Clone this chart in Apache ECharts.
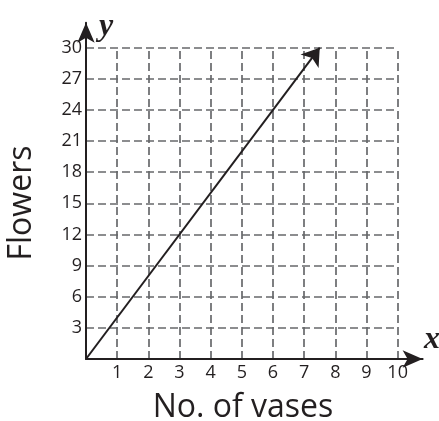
<!DOCTYPE html>
<html>
<head>
<meta charset="utf-8">
<script src="https://cdn.jsdelivr.net/npm/echarts@6/dist/echarts.min.js"></script>
<style>html,body{margin:0;padding:0;background:#fff;}#c{width:439px;height:421px;}</style>
</head>
<body>
<div id="c"></div>
<script>
// Data
var xTicks = [1, 2, 3, 4, 5, 6, 7, 8, 9, 10];
var yTicks = [3, 6, 9, 12, 15, 18, 21, 24, 27, 30];
var linePoints = [[0, 0], [7.5, 30]];
var xTitle = 'No. of vases';
var yTitle = 'Flowers';

var xMaxGrid = 10, yMaxGrid = 30;
var gridLines = [];
xTicks.forEach(function (x) { gridLines.push({ coords: [[x, 0], [x, yMaxGrid]] }); });
yTicks.forEach(function (y) { gridLines.push({ coords: [[0, y], [xMaxGrid, y]] }); });

var ink = '#231f20';
var font = 'Open Sans';
var chart = echarts.init(document.getElementById('c'), null, { renderer: 'canvas' });
chart.setOption({
  animation: false,
  grid: { left: 86, right: 16.4, top: 22.8, bottom: 62 },
  xAxis: {
    type: 'value', min: 0, max: 10.8, interval: 1, z: 5,
    axisLine: { show: true, symbol: ['none', 'arrow'], symbolSize: [13, 20], lineStyle: { color: ink, width: 2 } },
    axisTick: { show: false },
    splitLine: { show: false },
    axisLabel: {
      margin: 5, fontSize: 18, fontFamily: font, color: ink,
      formatter: function (v) { return xTicks.indexOf(v) >= 0 ? String(v) : ''; }
    }
  },
  yAxis: {
    type: 'value', min: 0, max: 32.4, interval: 3, z: 5,
    axisLine: { show: true, symbol: ['none', 'arrow'], symbolSize: [13, 20], lineStyle: { color: ink, width: 2 } },
    axisTick: { show: false },
    splitLine: { show: false },
    axisLabel: {
      margin: 4, fontSize: 18, fontFamily: font, color: ink,
      formatter: function (v) { return yTicks.indexOf(v) >= 0 ? String(v) : ''; }
    }
  },
  graphic: [
    { type: 'text', x: 243, y: 392, style: { text: xTitle, font: '32px "Open Sans"', fill: ink, textAlign: 'center', textVerticalAlign: 'top' } },
    { type: 'text', x: 6, y: 203, rotation: Math.PI / 2, style: { text: yTitle, font: '32px "Open Sans"', fill: ink, textAlign: 'center', textVerticalAlign: 'top' } },
    { type: 'text', x: 99, y: 43, style: { text: 'y', font: 'italic bold 32px "Liberation Serif"', fill: ink, textAlign: 'left', textVerticalAlign: 'bottom' } },
    { type: 'text', x: 424, y: 356, style: { text: 'x', font: 'italic bold 32px "Liberation Serif"', fill: ink, textAlign: 'left', textVerticalAlign: 'bottom' } }
  ],
  series: [
    {
      type: 'lines', coordinateSystem: 'cartesian2d', silent: true, z: 1,
      lineStyle: { color: '#67686b', width: 1.7, type: [8, 4], opacity: 1 },
      data: gridLines
    },
    {
      type: 'lines', coordinateSystem: 'cartesian2d', silent: true, z: 3,
      symbol: ['none', 'arrow'], symbolSize: 17,
      lineStyle: { color: ink, width: 2, opacity: 1 },
      data: [{ coords: linePoints }]
    }
  ]
});
</script>
</body>
</html>
